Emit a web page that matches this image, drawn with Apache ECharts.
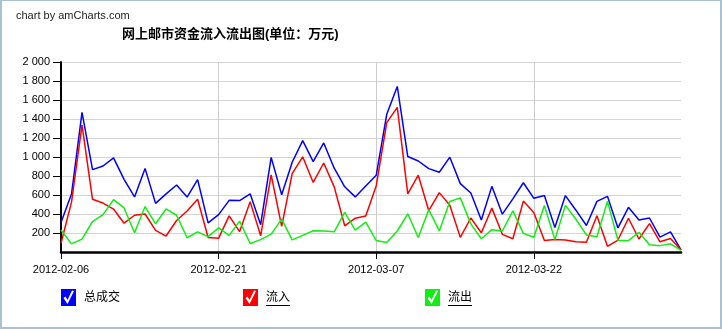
<!DOCTYPE html>
<html>
<head>
<meta charset="utf-8">
<script src="https://cdn.jsdelivr.net/npm/echarts@6/dist/echarts.min.js"></script>
<style>
  html, body { margin: 0; padding: 0; background: #fff; }
  #wrap { position: relative; width: 722px; height: 329px; }
  #chart { position: absolute; left: 0; top: 0; width: 722px; height: 329px; }
  #frame { position: absolute; left: 0; top: 0; width: 722px; height: 329px; box-sizing: border-box;
           border: 2px solid #a9c2d2; border-top-width: 1px; pointer-events: none; }
</style>
</head>
<body>
<div id="wrap"><div id="chart"></div><div id="frame"></div></div>
<script>
// ---- data ----
const startDate = '2012-02-06';
const dayCount = 60;
const seriesNames = ['总成交', '流入', '流出'];
const total = [310, 610, 1470, 867, 905, 990, 765, 580, 880, 512, 612, 705, 578, 762, 307,
               393, 544, 542, 612, 287, 996, 603, 945, 1173, 952, 1148, 882, 686, 580, 695,
               808, 1450, 1743, 1005, 958, 878, 840, 998, 720, 621, 336, 691, 398, 560, 729,
               565, 595, 257, 594, 440, 279, 533, 586, 253, 470, 336, 358, 156, 212, 22];
const inflow = [92, 525, 1335, 555, 515, 452, 303, 387, 400, 228, 168, 332, 432, 556, 152,
                146, 380, 215, 530, 171, 812, 270, 826, 1002, 732, 937, 686, 276, 356, 378,
                698, 1362, 1522, 612, 808, 435, 625, 492, 154, 358, 203, 462, 186, 140, 536,
                414, 120, 132, 126, 108, 102, 382, 60, 126, 355, 137, 298, 107, 143, 22];
const outflow = [232, 86, 136, 321, 393, 551, 464, 202, 478, 297, 453, 387, 150, 212, 162,
                 254, 175, 325, 89, 130, 188, 346, 127, 175, 224, 221, 212, 416, 231, 314,
                 121, 100, 221, 402, 152, 446, 222, 531, 570, 296, 140, 235, 221, 433, 196,
                 156, 489, 130, 491, 345, 180, 161, 533, 123, 119, 208, 77, 67, 86, 18];
const yTicks = [0, 200, 400, 600, 800, 1000, 1200, 1400, 1600, 1800, 2000];

// category dates, one per day
function buildDates(start, n) {
  const out = [];
  const d = new Date(start + 'T00:00:00Z');
  for (let i = 0; i < n; i++) {
    const t = new Date(d.getTime() + i * 86400000);
    out.push(t.toISOString().slice(0, 10));
  }
  return out;
}
const dates = buildDates(startDate, dayCount);

const colors = ['#0000ff', '#ff0000', '#11ee11'];
const FONT = '"Liberation Sans", Arial, "Noto Sans CJK SC", sans-serif';
const checkIcon = 'path://M0,0 L15,0 L15,17 L0,17 Z M2.5,9 L6.5,15 L13,2 L11,1.5 L6.5,11 L4.5,7.5 Z';

function fmtThousands(v) {
  return String(v).replace(/\B(?=(\d{3})+(?!\d))/g, ' ');
}

const chart = echarts.init(document.getElementById('chart'), null, { renderer: 'canvas' });
const legendLefts = [61, 243, 425];
chart.setOption({
  animation: false,
  backgroundColor: '#ffffff',
  textStyle: { fontFamily: FONT },
  title: [
    { text: 'chart by amCharts.com', left: 11, top: 5,
      textStyle: { fontSize: 11, fontWeight: 'normal', color: '#222', fontFamily: FONT } },
    { text: '网上邮市资金流入流出图(单位：万元)', left: 117, top: 23,
      textStyle: { fontSize: 13, fontWeight: 'bold', color: '#000', fontFamily: FONT } }
  ],
  legend: seriesNames.map((n, i) => ({
    data: [n], left: legendLefts[i], top: 289, icon: checkIcon,
    itemWidth: 15, itemHeight: 17, padding: 0,
    itemStyle: { borderWidth: 0 },
    textStyle: { fontSize: 12, color: '#000', fontFamily: FONT, padding: [0, 0, 0, 3] },
    selectedMode: false
  })),
  grid: { left: 61, right: 41, top: 62, bottom: 77, containLabel: false },
  xAxis: {
    type: 'category', data: dates, boundaryGap: false,
    axisLine: { lineStyle: { color: '#000', width: 2.5 } },
    axisTick: { show: true, interval: 14, length: 7, lineStyle: { color: '#000', width: 1 } },
    axisLabel: { interval: 14, margin: 12, fontSize: 11, color: '#000', fontFamily: FONT },
    splitLine: { show: true, interval: 14, lineStyle: { color: '#cccccc', width: 1 } }
  },
  yAxis: {
    type: 'value', min: yTicks[0], max: yTicks[yTicks.length - 1], interval: 200,
    axisLine: { show: true, lineStyle: { color: '#000', width: 2 } },
    axisTick: { show: true, length: 8, lineStyle: { color: '#000', width: 1 } },
    axisLabel: { margin: 11, fontSize: 11, color: '#000', fontFamily: FONT, showMinLabel: false,
                 formatter: v => fmtThousands(v) },
    splitLine: { show: true, lineStyle: { color: '#d4d4d4', width: 1 } }
  },
  series: [
    { name: seriesNames[0], type: 'line', data: total, showSymbol: false, symbol: 'none',
      color: colors[0], lineStyle: { width: 1.5, color: colors[0] } },
    { name: seriesNames[1], type: 'line', data: inflow, showSymbol: false, symbol: 'none',
      color: colors[1], lineStyle: { width: 1.5, color: colors[1] } },
    { name: seriesNames[2], type: 'line', data: outflow, showSymbol: false, symbol: 'none',
      color: colors[2], lineStyle: { width: 1.5, color: colors[2] } }
  ],
  graphic: [
    { type: 'line', shape: { x1: 266, y1: 305.5, x2: 290, y2: 305.5 }, style: { stroke: '#000', lineWidth: 1 } },
    { type: 'line', shape: { x1: 448, y1: 305.5, x2: 472, y2: 305.5 }, style: { stroke: '#000', lineWidth: 1 } }
  ]
});
</script>
</body>
</html>
